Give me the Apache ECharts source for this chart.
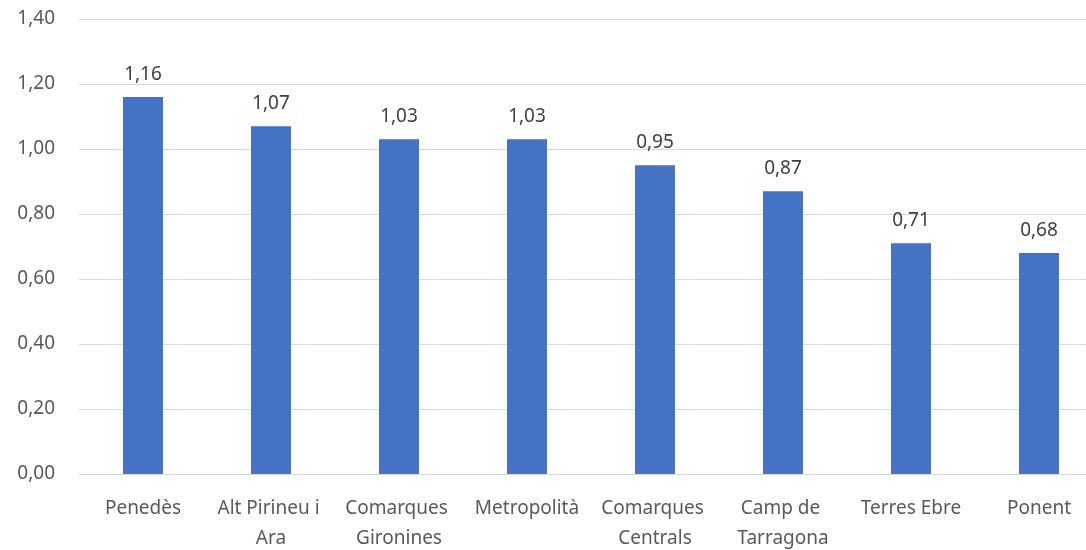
<!DOCTYPE html>
<html>
<head>
<meta charset="utf-8">
<script src="https://cdn.jsdelivr.net/npm/echarts@6/dist/echarts.min.js"></script>
<style>html,body{margin:0;padding:0;background:#fff}#c{width:1086px;height:550px}</style>
</head>
<body>
<div id="c"></div>
<script>
const categories = ['Penedès', 'Alt Pirineu i Ara', 'Comarques Gironines', 'Metropolità', 'Comarques Centrals', 'Camp de Tarragona', 'Terres Ebre', 'Ponent'];
const values = [1.16, 1.07, 1.03, 1.03, 0.95, 0.87, 0.71, 0.68];
const yTicks = { min: 0, max: 1.4, interval: 0.2 };

const fmt = v => Number(v).toFixed(2).replace('.', ',');
const chart = echarts.init(document.getElementById('c'));
chart.setOption({
  animation: false,
  textStyle: { fontFamily: 'Noto Sans' },
  grid: { left: 79, width: 1024, top: 19, height: 455, containLabel: false, outerBoundsMode: 'none' },
  xAxis: {
    type: 'category',
    data: categories,
    axisLine: { lineStyle: { color: '#d9d9d9', width: 1 } },
    axisTick: { show: false },
    axisLabel: { color: '#595959', fontSize: 19, margin: 20, width: 124, overflow: 'break', lineHeight: 30, interval: 0 }
  },
  yAxis: {
    type: 'value',
    min: yTicks.min, max: yTicks.max, interval: yTicks.interval,
    axisLine: { show: false },
    axisTick: { show: false },
    splitLine: { lineStyle: { color: '#d9d9d9', width: 1 } },
    axisLabel: { color: '#595959', fontSize: 19, margin: 24, formatter: fmt }
  },
  series: [{
    type: 'bar',
    data: values,
    barWidth: 40,
    itemStyle: { color: '#4472C4' },
    label: { show: true, position: 'top', distance: 13, color: '#404040', fontSize: 19, formatter: p => fmt(p.value) }
  }]
});
</script>
</body>
</html>
